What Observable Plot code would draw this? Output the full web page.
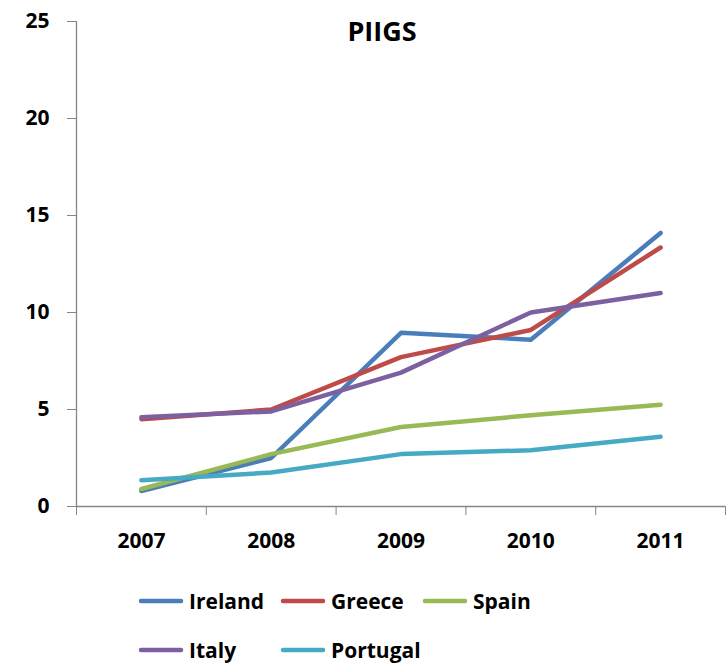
<!DOCTYPE html>
<html>
<head>
<meta charset="utf-8">
<script src="https://cdn.jsdelivr.net/npm/d3@7"></script>
<script src="https://cdn.jsdelivr.net/npm/@observablehq/plot@0.6"></script>
<style>
  body { margin: 0; background: #fff; }
  #wrap { width: 726px; height: 666px; position: relative; font-family: "Open Sans", sans-serif; }
  #legend { position: relative; height: 106px; width: 726px; }
  .item { position: absolute; display: flex; align-items: center; font-weight: bold; font-size: 21px; color: #000; transform: translateY(-50%); }
  .item svg { margin-right: 5px; }
</style>
</head>
<body>
<div id="wrap"></div>
<script>
const years = [2007, 2008, 2009, 2010, 2011];
const countries = ["Ireland", "Greece", "Spain", "Italy", "Portugal"];
const colors = ["#4A7EBB", "#BE4B48", "#98B954", "#7D60A0", "#46AAC5"];
const ireland  = [0.8, 2.5, 8.95, 8.6, 14.1];
const greece   = [4.5, 5.0, 7.7, 9.1, 13.35];
const spain    = [0.9, 2.7, 4.1, 4.7, 5.25];
const italy    = [4.6, 4.9, 6.9, 10.0, 11.0];
const portugal = [1.35, 1.75, 2.7, 2.9, 3.6];
const yTicks = [0, 5, 10, 15, 20, 25];
const title = "PIIGS";

const series = [ireland, greece, spain, italy, portugal];
const data = [];
countries.forEach((c, i) => years.forEach((yr, j) => data.push({country: c, year: yr, value: series[i][j]})));
const bounds = [years[0] - 0.5, ...years.map(y => y + 0.5)];

const chart = Plot.plot({
  width: 726,
  height: 560,
  marginLeft: 76,
  marginRight: 1,
  marginTop: 21,
  marginBottom: 54,
  style: {fontFamily: "Open Sans, sans-serif", background: "#fff"},
  x: {domain: [bounds[0], bounds[bounds.length - 1]]},
  y: {domain: [0, 25]},
  color: {domain: countries, range: colors},
  marks: [
    Plot.ruleY([0], {stroke: "#868686", strokeWidth: 1.3}),
    Plot.ruleX([bounds[0]], {stroke: "#868686", strokeWidth: 1.3}),
    Plot.axisY({ticks: yTicks, tickSize: 9, tickPadding: 18, stroke: "#868686", fontSize: 21, fontWeight: "bold", fill: "#000", label: null, tickFormat: d => String(d)}),
    Plot.axisX({ticks: bounds, tickSize: 9, stroke: "#868686", tickFormat: () => "", label: null}),
    Plot.axisX({ticks: years, tickSize: 0, tickPadding: 27, fontSize: 21, fontWeight: "bold", fill: "#000", label: null, tickFormat: d => String(d)}),
    Plot.line(data, {x: "year", y: "value", z: "country", stroke: "country", strokeWidth: 4.5, strokeLinejoin: "round", strokeLinecap: "round"}),
    Plot.text([title], {frameAnchor: "top", dx: -19, dy: 0, fontSize: 27, fontWeight: "bold", fill: "#000"})
  ]
});
document.getElementById("wrap").appendChild(chart);

const legend = document.createElement("div");
legend.id = "legend";
const lx = [138, 280, 422];
countries.forEach((c, i) => {
  const row = Math.floor(i / 3), col = i % 3;
  const it = document.createElement("div");
  it.className = "item";
  it.style.left = lx[col] + "px";
  it.style.top = (row === 0 ? 41 : 90) + "px";
  it.innerHTML = `<svg width="46" height="8"><line x1="3" y1="4" x2="43" y2="4" stroke="${colors[i]}" stroke-width="4.5" stroke-linecap="round"/></svg><span>${c}</span>`;
  legend.appendChild(it);
});
document.getElementById("wrap").appendChild(legend);
</script>
</body>
</html>
